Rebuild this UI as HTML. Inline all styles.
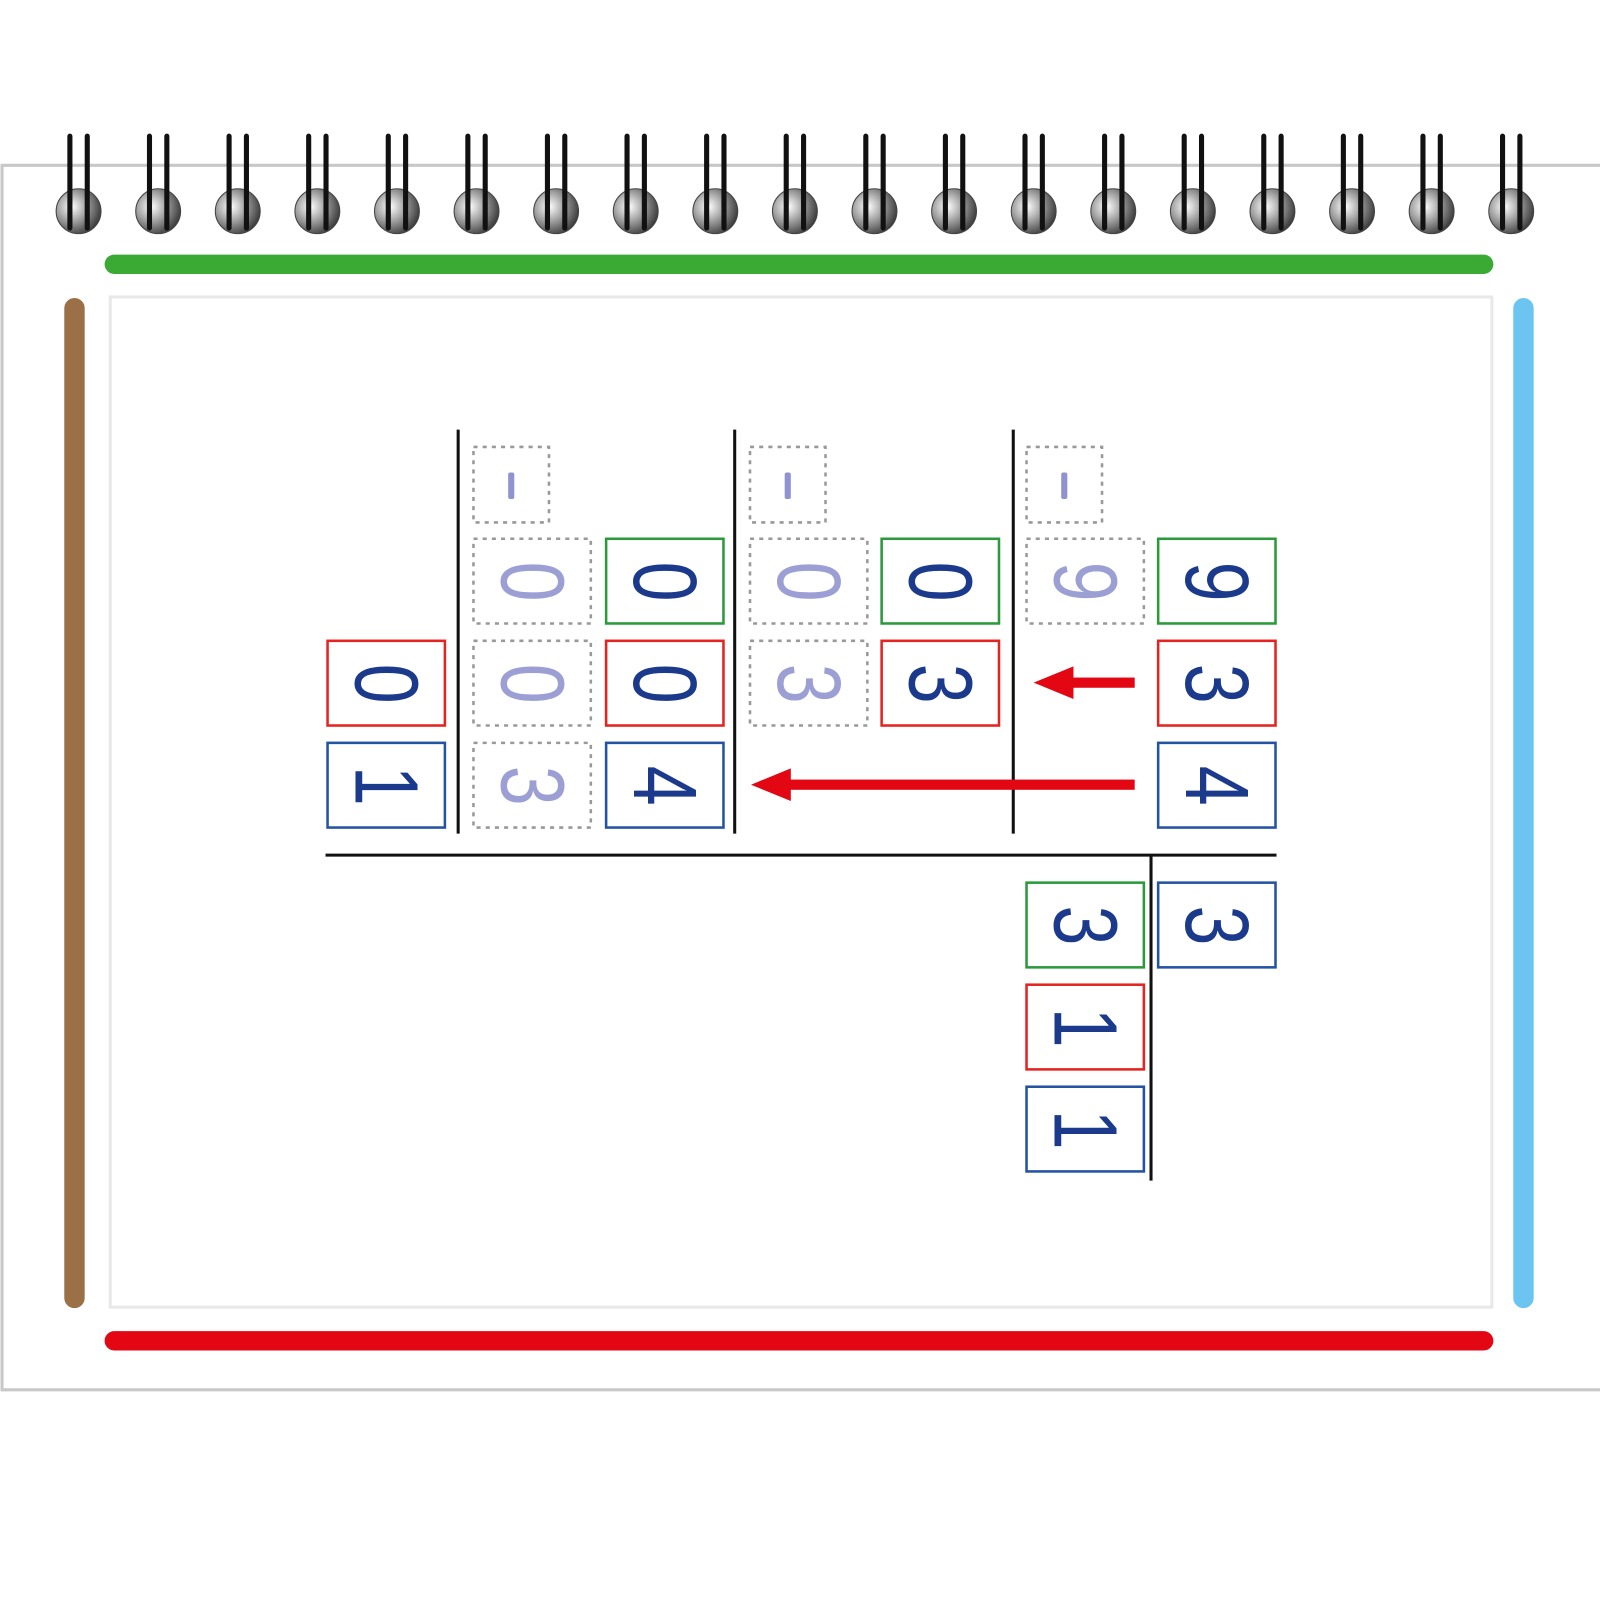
<!DOCTYPE html>
<html><head><meta charset="utf-8"><style>
html,body{margin:0;padding:0;background:#fff;}
svg{display:block;}
text{font-family:"Liberation Sans",sans-serif;}
</style></head><body>
<svg width="1600" height="1600" viewBox="0 0 1568 1568" xmlns="http://www.w3.org/2000/svg">
<defs>
<radialGradient id="rg" cx="0.35" cy="0.4" r="0.7">
<stop offset="0" stop-color="#ffffff"/><stop offset="0.5" stop-color="#9a9a9a"/><stop offset="1" stop-color="#333"/>
</radialGradient>
</defs>
<path d="M1568 162 H2 V1362 H1568" fill="none" stroke="#c8c8c8" stroke-width="3"/>
<rect x="108" y="291" width="1354" height="990" fill="none" stroke="#e8e8e8" stroke-width="3"/>
<g>
<g transform="translate(77,0)"><circle cx="0" cy="207" r="22" fill="url(#rg)" stroke="#444" stroke-width="1"/><rect x="-11" y="131" width="5" height="95" rx="2.5" fill="#111"/><rect x="6" y="131" width="5" height="95" rx="2.5" fill="#111"/></g>
<g transform="translate(155,0)"><circle cx="0" cy="207" r="22" fill="url(#rg)" stroke="#444" stroke-width="1"/><rect x="-11" y="131" width="5" height="95" rx="2.5" fill="#111"/><rect x="6" y="131" width="5" height="95" rx="2.5" fill="#111"/></g>
<g transform="translate(233,0)"><circle cx="0" cy="207" r="22" fill="url(#rg)" stroke="#444" stroke-width="1"/><rect x="-11" y="131" width="5" height="95" rx="2.5" fill="#111"/><rect x="6" y="131" width="5" height="95" rx="2.5" fill="#111"/></g>
<g transform="translate(311,0)"><circle cx="0" cy="207" r="22" fill="url(#rg)" stroke="#444" stroke-width="1"/><rect x="-11" y="131" width="5" height="95" rx="2.5" fill="#111"/><rect x="6" y="131" width="5" height="95" rx="2.5" fill="#111"/></g>
<g transform="translate(389,0)"><circle cx="0" cy="207" r="22" fill="url(#rg)" stroke="#444" stroke-width="1"/><rect x="-11" y="131" width="5" height="95" rx="2.5" fill="#111"/><rect x="6" y="131" width="5" height="95" rx="2.5" fill="#111"/></g>
<g transform="translate(467,0)"><circle cx="0" cy="207" r="22" fill="url(#rg)" stroke="#444" stroke-width="1"/><rect x="-11" y="131" width="5" height="95" rx="2.5" fill="#111"/><rect x="6" y="131" width="5" height="95" rx="2.5" fill="#111"/></g>
<g transform="translate(545,0)"><circle cx="0" cy="207" r="22" fill="url(#rg)" stroke="#444" stroke-width="1"/><rect x="-11" y="131" width="5" height="95" rx="2.5" fill="#111"/><rect x="6" y="131" width="5" height="95" rx="2.5" fill="#111"/></g>
<g transform="translate(623,0)"><circle cx="0" cy="207" r="22" fill="url(#rg)" stroke="#444" stroke-width="1"/><rect x="-11" y="131" width="5" height="95" rx="2.5" fill="#111"/><rect x="6" y="131" width="5" height="95" rx="2.5" fill="#111"/></g>
<g transform="translate(701,0)"><circle cx="0" cy="207" r="22" fill="url(#rg)" stroke="#444" stroke-width="1"/><rect x="-11" y="131" width="5" height="95" rx="2.5" fill="#111"/><rect x="6" y="131" width="5" height="95" rx="2.5" fill="#111"/></g>
<g transform="translate(779,0)"><circle cx="0" cy="207" r="22" fill="url(#rg)" stroke="#444" stroke-width="1"/><rect x="-11" y="131" width="5" height="95" rx="2.5" fill="#111"/><rect x="6" y="131" width="5" height="95" rx="2.5" fill="#111"/></g>
<g transform="translate(857,0)"><circle cx="0" cy="207" r="22" fill="url(#rg)" stroke="#444" stroke-width="1"/><rect x="-11" y="131" width="5" height="95" rx="2.5" fill="#111"/><rect x="6" y="131" width="5" height="95" rx="2.5" fill="#111"/></g>
<g transform="translate(935,0)"><circle cx="0" cy="207" r="22" fill="url(#rg)" stroke="#444" stroke-width="1"/><rect x="-11" y="131" width="5" height="95" rx="2.5" fill="#111"/><rect x="6" y="131" width="5" height="95" rx="2.5" fill="#111"/></g>
<g transform="translate(1013,0)"><circle cx="0" cy="207" r="22" fill="url(#rg)" stroke="#444" stroke-width="1"/><rect x="-11" y="131" width="5" height="95" rx="2.5" fill="#111"/><rect x="6" y="131" width="5" height="95" rx="2.5" fill="#111"/></g>
<g transform="translate(1091,0)"><circle cx="0" cy="207" r="22" fill="url(#rg)" stroke="#444" stroke-width="1"/><rect x="-11" y="131" width="5" height="95" rx="2.5" fill="#111"/><rect x="6" y="131" width="5" height="95" rx="2.5" fill="#111"/></g>
<g transform="translate(1169,0)"><circle cx="0" cy="207" r="22" fill="url(#rg)" stroke="#444" stroke-width="1"/><rect x="-11" y="131" width="5" height="95" rx="2.5" fill="#111"/><rect x="6" y="131" width="5" height="95" rx="2.5" fill="#111"/></g>
<g transform="translate(1247,0)"><circle cx="0" cy="207" r="22" fill="url(#rg)" stroke="#444" stroke-width="1"/><rect x="-11" y="131" width="5" height="95" rx="2.5" fill="#111"/><rect x="6" y="131" width="5" height="95" rx="2.5" fill="#111"/></g>
<g transform="translate(1325,0)"><circle cx="0" cy="207" r="22" fill="url(#rg)" stroke="#444" stroke-width="1"/><rect x="-11" y="131" width="5" height="95" rx="2.5" fill="#111"/><rect x="6" y="131" width="5" height="95" rx="2.5" fill="#111"/></g>
<g transform="translate(1403,0)"><circle cx="0" cy="207" r="22" fill="url(#rg)" stroke="#444" stroke-width="1"/><rect x="-11" y="131" width="5" height="95" rx="2.5" fill="#111"/><rect x="6" y="131" width="5" height="95" rx="2.5" fill="#111"/></g>
<g transform="translate(1481,0)"><circle cx="0" cy="207" r="22" fill="url(#rg)" stroke="#444" stroke-width="1"/><rect x="-11" y="131" width="5" height="95" rx="2.5" fill="#111"/><rect x="6" y="131" width="5" height="95" rx="2.5" fill="#111"/></g>
</g>
<line x1="112" y1="259" x2="1454" y2="259" stroke="#3aaa35" stroke-width="19" stroke-linecap="round"/>
<line x1="112" y1="1314" x2="1454" y2="1314" stroke="#e30613" stroke-width="19" stroke-linecap="round"/>
<line x1="73" y1="302" x2="73" y2="1272" stroke="#9c7047" stroke-width="20" stroke-linecap="round"/>
<line x1="1493" y1="302" x2="1493" y2="1272" stroke="#6cc5f0" stroke-width="20" stroke-linecap="round"/>
<g stroke="#111" stroke-width="3">
<line x1="449" y1="421" x2="449" y2="817"/>
<line x1="720" y1="421" x2="720" y2="817"/>
<line x1="993" y1="421" x2="993" y2="817"/>
<line x1="319" y1="838" x2="1251" y2="838"/>
<line x1="1128" y1="838" x2="1128" y2="1157"/>
</g>
<g fill="#e30613">
<rect x="1040" y="664" width="72" height="10"/>
<polygon points="1013,669 1052,653 1052,685"/>
<rect x="770" y="764" width="342" height="10"/>
<polygon points="736,769 775,753 775,785"/>
</g>
<g fill="none" stroke="#999" stroke-width="2.5" stroke-dasharray="4,5">
<rect x="464" y="438" width="74" height="74"/>
<rect x="735" y="438" width="74" height="74"/>
<rect x="1006" y="438" width="74" height="74"/>
<rect x="464" y="528" width="115" height="83"/>
<rect x="464" y="628" width="115" height="83"/>
<rect x="464" y="728" width="115" height="83"/>
<rect x="735" y="528" width="115" height="83"/>
<rect x="735" y="628" width="115" height="83"/>
<rect x="1006" y="528" width="115" height="83"/>
</g>
<g fill="none" stroke-width="2.5">
<rect x="321" y="628" width="115" height="83" stroke="#e52421"/>
<rect x="321" y="728" width="115" height="83" stroke="#2354a3"/>
<rect x="594" y="528" width="115" height="83" stroke="#2a9a3a"/>
<rect x="594" y="628" width="115" height="83" stroke="#e52421"/>
<rect x="594" y="728" width="115" height="83" stroke="#2354a3"/>
<rect x="864" y="528" width="115" height="83" stroke="#2a9a3a"/>
<rect x="864" y="628" width="115" height="83" stroke="#e52421"/>
<rect x="1135" y="528" width="115" height="83" stroke="#2a9a3a"/>
<rect x="1135" y="628" width="115" height="83" stroke="#e52421"/>
<rect x="1135" y="728" width="115" height="83" stroke="#2354a3"/>
<rect x="1006" y="865" width="115" height="83" stroke="#2a9a3a"/>
<rect x="1135" y="865" width="115" height="83" stroke="#2354a3"/>
<rect x="1006" y="965" width="115" height="83" stroke="#e52421"/>
<rect x="1006" y="1065" width="115" height="83" stroke="#2354a3"/>
</g>
<g fill="#8f93d0">
<rect x="498" y="463" width="6" height="26" rx="2"/>
<rect x="769" y="463" width="6" height="26" rx="2"/>
<rect x="1040" y="463" width="6" height="26" rx="2"/>
</g>
<g font-size="88" text-anchor="middle" dominant-baseline="central">
<g fill="#9c9fd4">
<text transform="translate(521 570) rotate(90) scale(0.8 1)">0</text>
<text transform="translate(521 670) rotate(90) scale(0.8 1)">0</text>
<text transform="translate(521 770) rotate(90) scale(0.8 1)">3</text>
<text transform="translate(792 570) rotate(90) scale(0.8 1)">0</text>
<text transform="translate(792 670) rotate(90) scale(0.8 1)">3</text>
<text transform="translate(1063 570) rotate(90) scale(0.8 1)">9</text>
</g>
<g fill="#1b3a8c">
<text transform="translate(378 670) rotate(90) scale(0.8 1)">0</text>
<text transform="translate(378 770) rotate(90) scale(0.8 1)">1</text>
<text transform="translate(651 570) rotate(90) scale(0.8 1)">0</text>
<text transform="translate(651 670) rotate(90) scale(0.8 1)">0</text>
<text transform="translate(651 770) rotate(90) scale(0.8 1)">4</text>
<text transform="translate(921 570) rotate(90) scale(0.8 1)">0</text>
<text transform="translate(921 670) rotate(90) scale(0.8 1)">3</text>
<text transform="translate(1192 570) rotate(90) scale(0.8 1)">9</text>
<text transform="translate(1192 670) rotate(90) scale(0.8 1)">3</text>
<text transform="translate(1192 770) rotate(90) scale(0.8 1)">4</text>
<text transform="translate(1063 907) rotate(90) scale(0.8 1)">3</text>
<text transform="translate(1192 907) rotate(90) scale(0.8 1)">3</text>
<text transform="translate(1063 1007) rotate(90) scale(0.8 1)">1</text>
<text transform="translate(1063 1107) rotate(90) scale(0.8 1)">1</text>
</g>
</g>
</svg>
</body></html>
